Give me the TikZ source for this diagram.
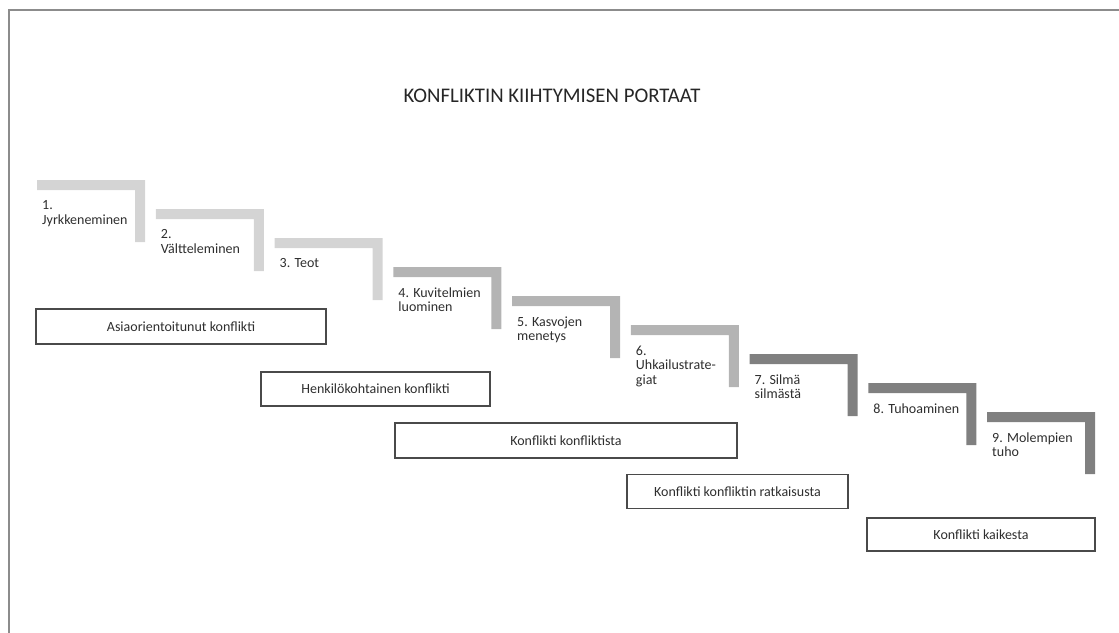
\documentclass[tikz,border=0pt]{standalone}
\usepackage{fontspec}
\setmainfont{Carlito}
\definecolor{stepA}{HTML}{D4D4D4}
\definecolor{stepB}{HTML}{B4B4B4}
\definecolor{stepC}{HTML}{808080}
\definecolor{txt}{HTML}{2E2E2E}
\definecolor{frame}{HTML}{8C8C8C}
\definecolor{boxline}{HTML}{4A4A4A}
\begin{document}
\begin{tikzpicture}[x=1pt,y=-1pt,
  steplabel/.style={anchor=north west,inner sep=0pt,align=left,text=txt,font=\fontsize{14}{14.5}\selectfont},
  phasebox/.style={draw=boxline,line width=1.4pt,inner sep=0pt,text=txt,font=\fontsize{14}{14.5}\selectfont},
  titlestyle/.style={inner sep=0pt,text=black!85,font=\fontsize{20.8}{24}\selectfont}]
\useasboundingbox (0,0) rectangle (1119,632);
\draw[frame,line width=2pt] (9,633) -- (9,10) -- (1120,10);
\node[titlestyle] (title) at (552,96) {KONFLIKTIN KIIHTYMISEN PORTAAT};
% steps
\foreach \n/\c/\lab in {1/stepA/{1.\\Jyrkkeneminen},2/stepA/{2.\\Vältteleminen},3/stepA/{3. Teot},
  4/stepB/{4. Kuvitelmien\\luominen},5/stepB/{5. Kasvojen\\menetys},6/stepB/{6.\\Uhkailustrate-\\giat},
  7/stepC/{7. Silmä\\silmästä},8/stepC/{8. Tuhoaminen},9/stepC/{9. Molempien\\tuho}}{
  \pgfmathsetmacro{\L}{37+(\n-1)*118.75}
  \pgfmathsetmacro{\T}{180+(\n-1)*29}
  \fill[\c] (\L,\T) -- ++(108,0) -- ++(0,62) -- ++(-10,0) -- ++(0,-52) -- ++(-98,0) -- cycle;
  \node[steplabel] (s\n) at (\L+5,\T+20.5) {\lab};
}
% phase boxes
\node[phasebox,minimum width=290pt,minimum height=35pt] (b1) at (181,326.5) {Asiaorientoitunut konflikti};
\node[phasebox,minimum width=229pt,minimum height=34pt] (b2) at (375.5,389) {Henkilökohtainen konflikti};
\node[phasebox,minimum width=342pt,minimum height=35pt] (b3) at (566,440.5) {Konflikti konfliktista};
\node[phasebox,minimum width=221pt,minimum height=34pt] (b4) at (737.5,491.5) {Konflikti konfliktin ratkaisusta};
\node[phasebox,minimum width=228pt,minimum height=33pt] (b5) at (981,534.5) {Konflikti kaikesta};
\end{tikzpicture}
\end{document}
